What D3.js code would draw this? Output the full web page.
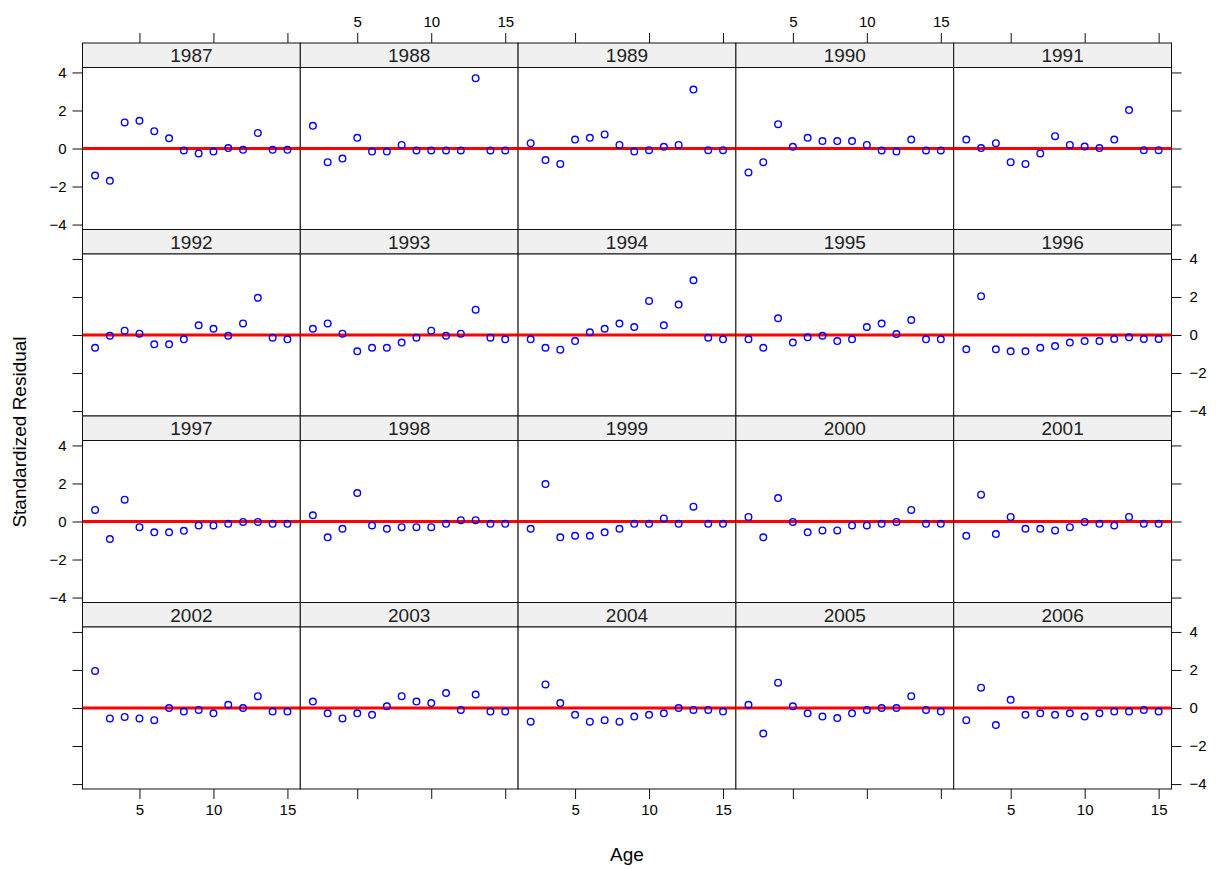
<!DOCTYPE html>
<html>
<head>
<meta charset="utf-8">
<script src="https://cdn.jsdelivr.net/npm/d3@7"></script>
<style>
  html, body { margin: 0; padding: 0; background: #fff; }
  svg { display: block; }
  text { font-family: "Liberation Sans", Arial, sans-serif; fill: #000; }
</style>
</head>
<body>
<svg id="chart" width="1216" height="869"></svg>
<script>
// ---- data ----
const years = [1987, 1988, 1989, 1990, 1991, 1992, 1993, 1994, 1995, 1996,
               1997, 1998, 1999, 2000, 2001, 2002, 2003, 2004, 2005, 2006];
const ages = [2, 3, 4, 5, 6, 7, 8, 9, 10, 11, 12, 13, 14, 15];
const xTickValues = [5, 10, 15];
const yTickValues = [-4, -2, 0, 2, 4];

const r1987 = [-1.42, -1.70, 1.37, 1.46, 0.91, 0.54, -0.10, -0.26, -0.16, 0.02, -0.07, 0.82, -0.07, -0.07];
const r1988 = [1.19, -0.72, -0.53, 0.56, -0.16, -0.16, 0.19, -0.10, -0.10, -0.10, -0.10, 3.70, -0.10, -0.10];
const r1989 = [0.28, -0.61, -0.81, 0.47, 0.56, 0.74, 0.19, -0.16, -0.09, 0.09, 0.19, 3.10, -0.09, -0.09];
const r1990 = [-1.26, -0.72, 1.28, 0.09, 0.56, 0.39, 0.39, 0.39, 0.19, -0.10, -0.16, 0.47, -0.10, -0.10];
const r1991 = [0.47, 0.02, 0.28, -0.72, -0.81, -0.26, 0.65, 0.19, 0.10, 0.02, 0.47, 2.02, -0.09, -0.09];
const r1992 = [-0.67, -0.04, 0.23, 0.07, -0.49, -0.49, -0.23, 0.51, 0.33, -0.04, 0.61, 1.96, -0.14, -0.23];
const r1993 = [0.33, 0.61, 0.07, -0.86, -0.67, -0.67, -0.40, -0.14, 0.23, -0.04, 0.07, 1.33, -0.14, -0.23];
const r1994 = [-0.23, -0.67, -0.77, -0.32, 0.14, 0.33, 0.60, 0.42, 1.79, 0.51, 1.60, 2.88, -0.14, -0.23];
const r1995 = [-0.23, -0.67, 0.88, -0.40, -0.12, -0.04, -0.32, -0.23, 0.42, 0.60, 0.05, 0.79, -0.23, -0.23];
const r1996 = [-0.75, 2.04, -0.75, -0.86, -0.86, -0.67, -0.58, -0.40, -0.32, -0.32, -0.21, -0.12, -0.21, -0.21];
const r1997 = [0.61, -0.92, 1.15, -0.30, -0.57, -0.57, -0.49, -0.21, -0.21, -0.12, -0.02, -0.02, -0.12, -0.12];
const r1998 = [0.33, -0.83, -0.38, 1.50, -0.21, -0.38, -0.30, -0.30, -0.30, -0.12, 0.07, 0.07, -0.12, -0.12];
const r1999 = [-0.38, 1.97, -0.83, -0.75, -0.75, -0.57, -0.38, -0.12, -0.12, 0.16, -0.12, 0.78, -0.12, -0.12];
const r2000 = [0.24, -0.83, 1.23, -0.02, -0.57, -0.47, -0.47, -0.21, -0.21, -0.12, -0.02, 0.61, -0.12, -0.12];
const r2001 = [-0.75, 1.41, -0.66, 0.24, -0.38, -0.38, -0.47, -0.30, -0.02, -0.12, -0.21, 0.24, -0.12, -0.12];
const r2002 = [1.95, -0.55, -0.47, -0.55, -0.64, 0.00, -0.19, -0.10, -0.28, 0.17, 0.00, 0.62, -0.19, -0.19];
const r2003 = [0.34, -0.28, -0.55, -0.28, -0.36, 0.09, 0.62, 0.34, 0.26, 0.79, -0.10, 0.71, -0.19, -0.19];
const r2004 = [-0.72, 1.24, 0.26, -0.36, -0.72, -0.64, -0.72, -0.45, -0.36, -0.28, 0.00, -0.10, -0.10, -0.19];
const r2005 = [0.17, -1.34, 1.33, 0.09, -0.28, -0.45, -0.53, -0.28, -0.10, 0.00, 0.00, 0.62, -0.10, -0.19];
const r2006 = [-0.64, 1.07, -0.90, 0.43, -0.36, -0.28, -0.36, -0.28, -0.45, -0.28, -0.19, -0.19, -0.10, -0.19];

const residuals = [r1987, r1988, r1989, r1990, r1991, r1992, r1993, r1994, r1995, r1996,
                   r1997, r1998, r1999, r2000, r2001, r2002, r2003, r2004, r2005, r2006];

// ---- layout ----
const svg = d3.select("#chart");
const nCols = 5, nRows = 4;
const gridL = 82.5, gridR = 1171.5, gridT = 43, gridB = 789;
const colW = (gridR - gridL) / nCols;
const rowH = (gridB - gridT) / nRows;
const stripH = 24.5;
const panelH = rowH - stripH;
const tickLen = 10;
const frameColor = "#111";

const x = d3.scaleLinear().domain([1.15, 15.87]).range([0, colW]);
const y = d3.scaleLinear().domain([-4.26, 4.26]).range([panelH, 0]);

function styleAxis(a) {
  a.select(".domain").remove();
  a.selectAll(".tick line").attr("stroke", frameColor).attr("stroke-width", 1);
  a.selectAll(".tick text").style("font-size", "15px").style("fill", "#000")
    .style("font-family", '"Liberation Sans", Arial, sans-serif');
}

years.forEach((yr, i) => {
  const col = i % nCols, row = Math.floor(i / nCols);
  const gx = gridL + col * colW;
  const gy = gridT + row * rowH;
  const g = svg.append("g").attr("transform", `translate(${gx},${gy})`);

  // strip
  g.append("rect").attr("x", 0).attr("y", 0).attr("width", colW).attr("height", stripH)
    .attr("fill", "#f0f0f0").attr("stroke", frameColor).attr("stroke-width", 1);
  g.append("text").attr("x", colW / 2).attr("y", stripH / 2 + 7)
    .attr("text-anchor", "middle").style("font-size", "19px").style("fill", "#222").text(yr);

  const p = g.append("g").attr("transform", `translate(0,${stripH})`);
  p.append("rect").attr("width", colW).attr("height", panelH)
    .attr("fill", "#fff").attr("stroke", frameColor).attr("stroke-width", 1);

  // zero reference line
  p.append("line").attr("x1", 0).attr("x2", colW).attr("y1", y(0)).attr("y2", y(0))
    .attr("stroke", "#ff0000").attr("stroke-width", 3);

  // points
  p.selectAll("circle").data(residuals[i].map((v, k) => ({ age: ages[k], v })))
    .join("circle")
    .attr("cx", d => x(d.age)).attr("cy", d => y(d.v)).attr("r", 3.3)
    .attr("fill", "none").attr("stroke", "#0000ff").attr("stroke-width", 1.4);

  if (col === 0) {
    const ax = d3.axisLeft(y).tickValues(yTickValues).tickSize(tickLen).tickPadding(6)
      .tickFormat(row % 2 === 0 ? d3.format("d") : () => "");
    styleAxis(p.append("g").call(ax));
  }
  if (col === nCols - 1) {
    const ax = d3.axisRight(y).tickValues(yTickValues).tickSize(tickLen).tickPadding(8)
      .tickFormat(row % 2 === 1 ? d3.format("d") : () => "");
    styleAxis(p.append("g").attr("transform", `translate(${colW},0)`).call(ax));
  }
  if (row === 0) {
    const ax = d3.axisTop(x).tickValues(xTickValues).tickSize(tickLen).tickPadding(6)
      .tickFormat(col % 2 === 1 ? d3.format("d") : () => "");
    styleAxis(g.append("g").call(ax));
  }
  if (row === nRows - 1) {
    const ax = d3.axisBottom(x).tickValues(xTickValues).tickSize(tickLen).tickPadding(5)
      .tickFormat(col % 2 === 0 ? d3.format("d") : () => "");
    styleAxis(p.append("g").attr("transform", `translate(0,${panelH})`).call(ax));
  }
});

// axis titles
svg.append("text").attr("x", (gridL + gridR) / 2).attr("y", 861)
  .attr("text-anchor", "middle").style("font-size", "19px").text("Age");
svg.append("text").attr("transform", `translate(26,${(gridT + gridB) / 2 + 16}) rotate(-90)`)
  .attr("text-anchor", "middle").style("font-size", "19px").text("Standardized Residual");
</script>
</body>
</html>
